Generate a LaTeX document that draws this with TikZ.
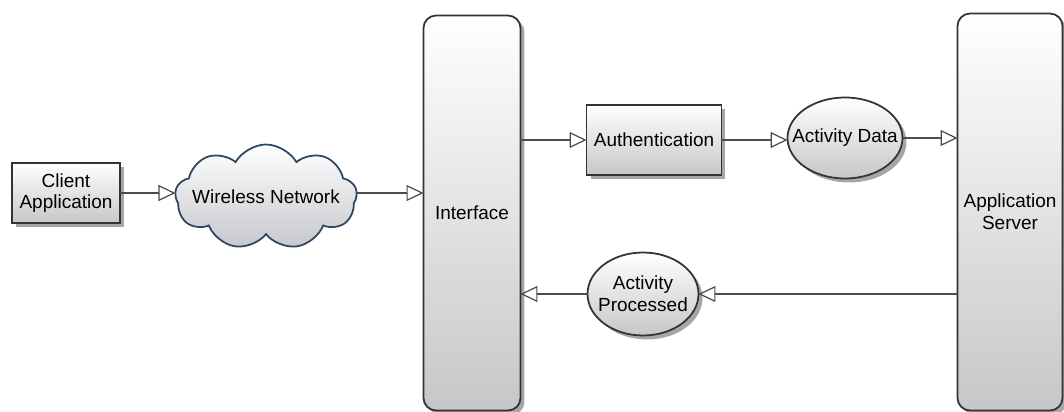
\documentclass[tikz,border=0pt]{standalone}
\usepackage{fontspec}
\setmainfont{Liberation Sans}
\usepackage{tikz}
\usetikzlibrary{arrows.meta,shapes.symbols,shapes.geometric,shadows}
\definecolor{cloudline}{RGB}{44,70,100}
\tikzset{
	flow diagram/.style={
		x=0.02cm, y=-0.02cm,
		font=\fontsize{10.8}{12.4}\selectfont,
		every node/.style={align=center, inner sep=0pt, outer sep=0pt},
		flow/.style={draw=black!70, line width=0.7pt,
			-{Triangle[open, length=0.34cm, width=0.32cm, line width=0.7pt]}}
		},
	grayfill/.style={top color=white, bottom color=black!22, draw=black!80, line width=1pt,
		drop shadow={shadow xshift=0.08cm, shadow yshift=-0.08cm, fill=black!35, opacity=1}},
	procbox/.style={grayfill, rectangle},
	tallbox/.style={grayfill, rectangle, rounded corners=0.25cm},
	databubble/.style={grayfill, ellipse, inner xsep=-0.35cm, inner ysep=-0.1cm},
	netcloud/.style={cloud, cloud puffs=9, cloud puff arc=120, aspect=1.9,
		inner xsep=-0.8cm, inner ysep=-0.1cm,
		draw=cloudline, line width=1pt, top color=white, bottom color=blue!10!black!22}
}

\begin{document}
\begin{tikzpicture}[flow diagram]
	\useasboundingbox (0,0) rectangle (1064,412);
	% boxes
	\node[procbox, minimum width=2.16cm, minimum height=1.2cm] (Client) at (66,193) {Client\\Application};
	\node[netcloud, minimum width=3.64cm, minimum height=2.1cm] (Wireless) at (266,197) {Wireless Network};
	\node[tallbox, minimum width=1.94cm, minimum height=7.9cm] (Interface) at (472,213) {Interface};
	\node[procbox, minimum width=2.7cm, minimum height=1.4cm] (Auth) at (654,140) {Authentication};
	\node[databubble, minimum width=2.3cm, minimum height=1.62cm] (Data) at (845,138) {Activity Data};
	\node[tallbox, minimum width=2.1cm, minimum height=7.94cm] (Server) at (1010,212) {Application\\Server};
	\node[databubble, minimum width=2.22cm, minimum height=1.66cm] (Processed) at (643,294) {Activity\\Processed};
	% connectors
	\draw[flow] (Client.east) -- (Client.east -| Wireless.west);
	\draw[flow] (Wireless.east |- Client.east) -- (Interface.west |- Client.east);
	\draw[flow] (Interface.east |- Auth.west) -- (Auth.west);
	\draw[flow] (Auth.east) -- (Auth.east -| Data.west);
	\draw[flow] (Data.east) -- (Server.west |- Data.east);
	\draw[flow] (Server.west |- Processed.east) -- (Processed.east);
	\draw[flow] (Processed.west) -- (Interface.east |- Processed.west);
\end{tikzpicture}
\end{document}
